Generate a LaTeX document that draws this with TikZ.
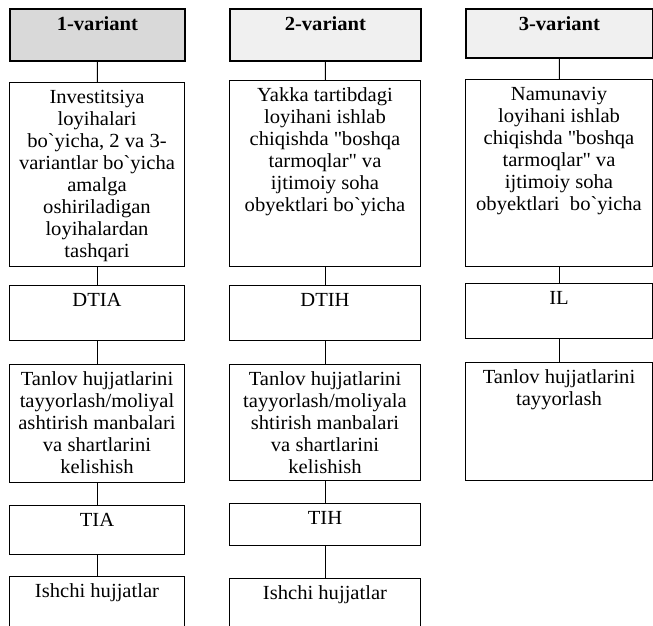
\documentclass[tikz,border=0pt]{standalone}
\usepackage{fontspec}
\setmainfont{Liberation Serif}[FakeStretch=1.03]

% text set from the top of a box of given width and height
\newcommand{\cell}[3]{\parbox[c][#2pt][t]{#1pt}{\centering\vspace*{6pt}\strut#3}}
\newcommand{\qq}{\textquotedbl}
\newcommand{\gr}{\textasciigrave}

\begin{document}
\begin{tikzpicture}[x=1pt, y=-1pt,
    box/.style={draw, line width=1pt, inner sep=0pt, anchor=north west,
                font=\fontsize{20}{22}\selectfont},
    head/.style={box, line width=1.8pt},
    link/.style={line width=1pt}]
    \useasboundingbox (0,0) rectangle (653,625);
    \clip (0,0) rectangle (653,625);

    % Column 1
    \node[head, fill=gray!30] (h1) at (9,8) {\cell{175}{52}{\textbf{1-variant}}};
    \node[box] (b1) at (9,82) {\cell{175}{184}{Investitsiya\\ loyihalari\\ bo\gr yicha, 2 va 3-\\ variantlar bo\gr yicha\\ amalga\\ oshiriladigan\\ loyihalardan\\ tashqari}};
    \node[box] (d1) at (9,285) {\cell{175}{55}{DTIA}};
    \node[box] (t1) at (9,364) {\cell{175}{118}{Tanlov hujjatlarini\\ tayyorlash/moliyal\\ ashtirish manbalari\\ va shartlarini\\ kelishish}};
    \node[box] (r1) at (9,505) {\cell{175}{49}{TIA}};
    \node[box] (w1) at (9,576) {\cell{175}{70}{Ishchi hujjatlar}};

    % Column 2
    \node[head, fill=gray!12] (h2) at (229,8) {\cell{191}{52}{\textbf{2-variant}}};
    \node[box] (b2) at (229,80) {\cell{191}{186}{Yakka tartibdagi\\ loyihani ishlab\\ chiqishda \qq boshqa\\ tarmoqlar\qq{} va\\ ijtimoiy soha\\ obyektlari bo\gr yicha}};
    \node[box] (d2) at (229,285) {\cell{191}{55}{DTIH}};
    \node[box] (t2) at (229,364) {\cell{191}{116}{Tanlov hujjatlarini\\ tayyorlash/moliyala\\ shtirish manbalari\\ va shartlarini\\ kelishish}};
    \node[box] (r2) at (229,503) {\cell{191}{42}{TIH}};
    \node[box] (w2) at (229,578) {\cell{191}{70}{Ishchi hujjatlar}};

    % Column 3
    \node[head, fill=gray!12] (h3) at (465,8) {\cell{187}{49}{\textbf{3-variant}}};
    \node[box] (b3) at (465,79) {\cell{187}{187}{Namunaviy\\ loyihani ishlab\\ chiqishda \qq boshqa\\ tarmoqlar\qq{} va\\ ijtimoiy soha\\ obyektlari\ \ bo\gr yicha}};
    \node[box] (d3) at (465,283) {\cell{187}{55}{IL}};
    \node[box] (t3) at (465,362) {\cell{187}{118}{Tanlov hujjatlarini\\ tayyorlash}};

    % Links
    \draw[link] (h1) -- (b1);
    \draw[link] (b1) -- (d1);
    \draw[link] (d1) -- (t1);
    \draw[link] (t1) -- (r1);
    \draw[link] (r1) -- (w1);

    \draw[link] (h2) -- (b2);
    \draw[link] (b2) -- (d2);
    \draw[link] (d2) -- (t2);
    \draw[link] (t2) -- (r2);
    \draw[link] (r2) -- (w2);

    \draw[link] (h3) -- (b3);
    \draw[link] (b3) -- (d3);
    \draw[link] (d3) -- (t3);
\end{tikzpicture}
\end{document}
